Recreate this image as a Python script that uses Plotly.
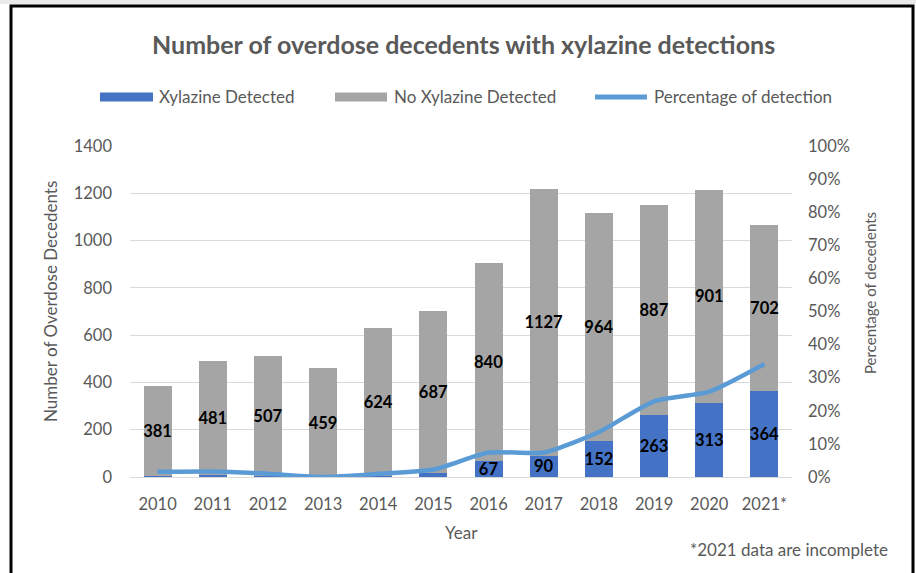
import plotly.graph_objects as go

years = ["2010", "2011", "2012", "2013", "2014", "2015", "2016", "2017", "2018", "2019", "2020", "2021*"]
xylazine = [6, 8, 5, 0, 6, 16, 67, 90, 152, 263, 313, 364]
no_xylazine = [381, 481, 507, 459, 624, 687, 840, 1127, 964, 887, 901, 702]
label_from_year = 2016
legend_names = ["Xylazine Detected", "No Xylazine Detected", "Percentage of detection"]

pct = [x / (x + n) for x, n in zip(xylazine, no_xylazine)]
xyl_text = [str(v) if int(y.rstrip("*")) >= label_from_year else "" for y, v in zip(years, xylazine)]
no_text = [str(v) for v in no_xylazine]

FONT = "Lato"
GRAY = "#595959"
BLUE, GREY_BAR, LINE = "#4472C4", "#A5A5A5", "#5B9BD5"
W, H = 916, 573

fig = go.Figure()
fig.add_trace(go.Bar(
    x=years, y=xylazine, name=legend_names[0],
    marker=dict(color=BLUE, line=dict(width=0)),
    text=xyl_text, textposition="inside", insidetextanchor="middle",
    textfont=dict(family=FONT, size=16.5, color="black", weight="bold"),
    textangle=0, showlegend=False,
))
fig.add_trace(go.Bar(
    x=years, y=no_xylazine, name=legend_names[1],
    marker=dict(color=GREY_BAR, line=dict(width=0)),
    text=no_text, textposition="inside", insidetextanchor="middle",
    textfont=dict(family=FONT, size=16.5, color="black", weight="bold"),
    textangle=0, showlegend=False,
))
fig.add_trace(go.Scatter(
    x=years, y=pct, name=legend_names[2], yaxis="y2",
    mode="lines", line=dict(color=LINE, width=4.5, shape="spline", smoothing=0.6),
    showlegend=False,
))

x0, x1 = 130 / W, 792 / W
y0, y1 = 1 - 477 / H, 1 - 146 / H

def px(x):
    return x / W

def py(y):
    return 1 - y / H

ann = [
    dict(text="<b>Number of overdose decedents with xylazine detections</b>", x=px(463), y=py(44),
         font=dict(family=FONT, size=25, color=GRAY)),
    dict(text="Number of Overdose Decedents", x=px(50), y=py(302), textangle=-90,
         font=dict(family=FONT, size=17, color=GRAY)),
    dict(text="Percentage of decedents", x=px(870), y=py(293), textangle=-90,
         font=dict(family=FONT, size=15, color=GRAY)),
    dict(text="Year", x=px(461), y=py(532), font=dict(family=FONT, size=17, color=GRAY)),
    dict(text="*2021 data are incomplete", x=px(890), y=py(549), xanchor="right",
         font=dict(family=FONT, size=17, color=GRAY)),
]
leg_y = 97
leg_items = [(100, 153, 157, legend_names[0], BLUE, "rect"),
             (335, 387, 392, legend_names[1], GREY_BAR, "rect"),
             (593, 649, 652, legend_names[2], LINE, "line")]
shapes = [
    dict(type="rect", xref="paper", yref="paper", x0=0, x1=1, y0=py(4), y1=1,
         line=dict(width=0), fillcolor="#EAEAEA", layer="below"),
    dict(type="rect", xref="paper", yref="paper", x0=px(11), x1=px(913), y0=-0.05, y1=py(6),
         line=dict(color="black", width=3), fillcolor="rgba(0,0,0,0)", layer="above"),
]
for sx0, sx1, tx, name, col, kind in leg_items:
    if kind == "rect":
        shapes.append(dict(type="rect", xref="paper", yref="paper", x0=px(sx0), x1=px(sx1),
                           y0=py(leg_y + 4.5), y1=py(leg_y - 4.5), line=dict(width=0), fillcolor=col))
    else:
        shapes.append(dict(type="line", xref="paper", yref="paper", x0=px(sx0 + 2), x1=px(sx1 - 2),
                           y0=py(leg_y), y1=py(leg_y), line=dict(color=col, width=5)))
    ann.append(dict(text=name, x=px(tx), y=py(leg_y), xanchor="left",
                    font=dict(family=FONT, size=17, color=GRAY)))
for a in ann:
    a.update(xref="paper", yref="paper", showarrow=False)
    a.setdefault("xanchor", "center")
    a.setdefault("yanchor", "middle")

fig.update_layout(
    width=W, height=H,
    margin=dict(l=0, r=0, t=0, b=0, autoexpand=False),
    paper_bgcolor="white", plot_bgcolor="white",
    barmode="stack", bargap=0.49,
    font=dict(family=FONT, size=16, color=GRAY),
    uniformtext=dict(minsize=16.5, mode="show"),
    showlegend=False,
    xaxis=dict(domain=[x0, x1], showgrid=False, showline=True, linecolor="#D9D9D9", linewidth=1,
               ticks="", tickfont=dict(family=FONT, size=16.5, color=GRAY), ticklabelstandoff=12,
               fixedrange=True, automargin=False),
    yaxis=dict(domain=[y0, y1], range=[0, 1400], dtick=200, showgrid=True, gridcolor="#D9D9D9",
               gridwidth=1, zeroline=False, showline=False, ticks="", automargin=False,
               tickfont=dict(family=FONT, size=16.5, color=GRAY), ticklabelstandoff=17),
    yaxis2=dict(overlaying="y", side="right", range=[0, 1], dtick=0.1, tickformat=".0%",
                showgrid=False, zeroline=False, showline=False, ticks="", automargin=False,
                tickfont=dict(family=FONT, size=16.5, color=GRAY), ticklabelstandoff=15),
    annotations=ann,
    shapes=shapes,
)

post = (
    "var d=document.getElementById('{plot_id}');"
    "d.style.position='fixed';d.style.top='0px';d.style.left='0px';"
    "document.body.style.margin='0';document.body.style.overflow='hidden';"
    "document.documentElement.style.overflow='hidden';"
)
fig.write_html("out.html", config={"displayModeBar": False}, post_script=post)
